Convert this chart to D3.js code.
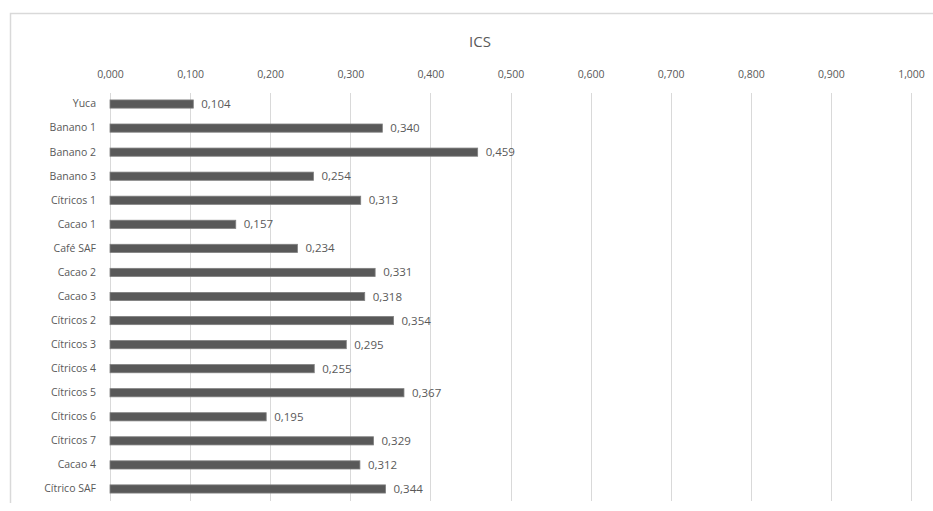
<!DOCTYPE html>
<html><head><meta charset="utf-8">
<script src="https://cdn.jsdelivr.net/npm/d3@7"></script>
<style>body{margin:0;background:#fff}svg{display:block}</style>
</head><body>
<svg id="c" width="933" height="511"></svg>
<script>
const categories = ["Yuca","Banano 1","Banano 2","Banano 3","Cítricos 1","Cacao 1","Café SAF","Cacao 2","Cacao 3","Cítricos 2","Cítricos 3","Cítricos 4","Cítricos 5","Cítricos 6","Cítricos 7","Cacao 4","Cítrico SAF"];
const values = [0.104,0.340,0.459,0.254,0.313,0.157,0.234,0.331,0.318,0.354,0.295,0.255,0.367,0.195,0.329,0.312,0.344];
const ticks = [0,0.1,0.2,0.3,0.4,0.5,0.6,0.7,0.8,0.9,1.0];
const title = "ICS";

const svg = d3.select("#c");
const font = "'Open Sans', 'Liberation Sans', sans-serif";
const fmt = v => d3.format(".3f")(v).replace(".", ",");

// frame
svg.append("path").attr("d","M10.5,503 V13.5 H933").attr("fill","none").attr("stroke","#d9d9d9").attr("stroke-width",1.5);

const x = d3.scaleLinear().domain([0,1]).range([110,911]);
const y = d3.scaleBand().domain(categories).range([92,501]).paddingInner(0.66).paddingOuter(0.33);

svg.append("text").attr("x",480).attr("y",47).attr("text-anchor","middle")
  .attr("font-family",font).attr("font-size",15).attr("fill","#595959").text(title);

// gridlines
svg.append("g").selectAll("line").data(ticks).join("line")
  .attr("x1",d=>Math.round(x(d))+0.5).attr("x2",d=>Math.round(x(d))+0.5)
  .attr("y1",93).attr("y2",501).attr("stroke","#d9d9d9").attr("stroke-width",1);

// top axis labels
const ax = svg.append("g").attr("transform","translate(0,78)")
  .call(d3.axisTop(x).tickValues(ticks).tickFormat(fmt).tickSize(0).tickPadding(0));
ax.select(".domain").remove();
ax.selectAll("text").attr("font-family",font).attr("font-size",10.5).attr("fill","#595959");

// bars
svg.append("g").selectAll("rect").data(values).join("rect")
  .attr("x",x(0)).attr("y",(d,i)=>y(categories[i]))
  .attr("width",d=>x(d)-x(0)).attr("height",y.bandwidth())
  .attr("fill","#595959").attr("stroke","#7f7f7f").attr("stroke-width",0.8);

// category labels
const yax = svg.append("g").attr("transform","translate(96,0)")
  .call(d3.axisLeft(y).tickSize(0).tickPadding(0));
yax.select(".domain").remove();
yax.selectAll("text").attr("font-family",font).attr("font-size",10.5).attr("fill","#595959");

// value labels
svg.append("g").selectAll("text").data(values).join("text")
  .attr("x",d=>x(d)+8).attr("y",(d,i)=>y(categories[i])+y.bandwidth()/2)
  .attr("dy","0.35em").attr("font-family",font).attr("font-size",11.5).attr("fill","#595959")
  .text(fmt);
</script>
</body></html>
